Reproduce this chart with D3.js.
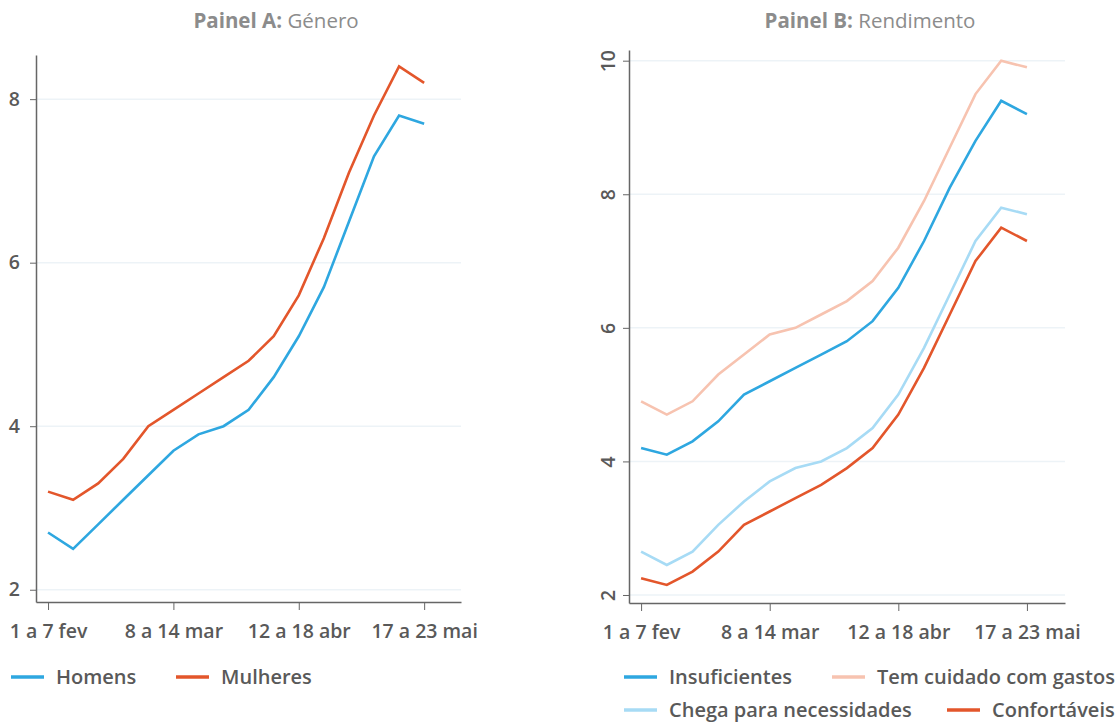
<!DOCTYPE html>
<html>
<head>
<meta charset="utf-8">
<script src="https://cdn.jsdelivr.net/npm/d3@7"></script>
<style>
  body { margin: 0; background: #fff; font-family: "Open Sans", sans-serif; }
  .tick text { fill: #595959; font-size: 19.5px; font-weight: 600; font-family: "Open Sans", sans-serif; }
  .domain, .tick line { stroke: #666; }
</style>
</head>
<body>
<div id="chart"></div>
<script>
// semanas (16 pontos), só algumas têm rótulo
var weeks = ["1 a 7 fev", "8 a 14 fev", "15 a 21 fev", "22 a 28 fev", "1 a 7 mar",
  "8 a 14 mar", "15 a 21 mar", "22 a 28 mar", "29 mar a 4 abr", "5 a 11 abr",
  "12 a 18 abr", "19 a 25 abr", "26 abr a 2 mai", "3 a 9 mai", "10 a 16 mai", "17 a 23 mai"];
var tickWeeks = ["1 a 7 fev", "8 a 14 mar", "12 a 18 abr", "17 a 23 mai"];

// Painel A
var homens   = [2.7, 2.5, 2.8, 3.1, 3.4, 3.7, 3.9, 4.0, 4.2, 4.6, 5.1, 5.7, 6.5, 7.3, 7.8, 7.7];
var mulheres = [3.2, 3.1, 3.3, 3.6, 4.0, 4.2, 4.4, 4.6, 4.8, 5.1, 5.6, 6.3, 7.1, 7.8, 8.4, 8.2];
var ticksA = [2, 4, 6, 8];

// Painel B
var insuficientes = [4.2, 4.1, 4.3, 4.6, 5.0, 5.2, 5.4, 5.6, 5.8, 6.1, 6.6, 7.3, 8.1, 8.8, 9.4, 9.2];
var cuidado       = [4.9, 4.7, 4.9, 5.3, 5.6, 5.9, 6.0, 6.2, 6.4, 6.7, 7.2, 7.9, 8.7, 9.5, 10.0, 9.9];
var chega         = [2.65, 2.45, 2.65, 3.05, 3.4, 3.7, 3.9, 4.0, 4.2, 4.5, 5.0, 5.7, 6.5, 7.3, 7.8, 7.7];
var confortaveis  = [2.25, 2.15, 2.35, 2.65, 3.05, 3.25, 3.45, 3.65, 3.9, 4.2, 4.7, 5.4, 6.2, 7.0, 7.5, 7.3];
var ticksB = [2, 4, 6, 8, 10];

var blue = "#2ea7e0", orange = "#e3562b", pink = "#f7c3b0", lightBlue = "#a7dbf5";

var svg = d3.select("#chart").append("svg")
    .attr("width", 1119)
    .attr("height", 722);

function panel(opts) {
    var g = svg.append("g");

    var x = d3.scaleLinear().domain(opts.xDomain).range([opts.left, opts.right]);
    var y = d3.scaleLinear().domain(opts.yDomain).range([opts.bottom, opts.top]);

    // grid
    g.selectAll(".grid").data(opts.yTicks).enter().append("line")
        .attr("x1", opts.left).attr("x2", opts.right)
        .attr("y1", function(d){ return y(d); })
        .attr("y2", function(d){ return y(d); })
        .style("stroke", "#edf3f7")
        .style("stroke-width", 1.5);

    var xAxis = d3.axisBottom(x)
        .tickValues(tickWeeks.map(function(w){ return weeks.indexOf(w); }))
        .tickFormat(function(i){ return weeks[i]; })
        .tickSize(8).tickPadding(14).tickSizeOuter(0);
    var gx = g.append("g")
        .attr("transform", "translate(0," + opts.bottom + ")")
        .call(xAxis);
    gx.select(".domain").style("stroke-width", 1.5);

    var yAxis = d3.axisLeft(y).tickValues(opts.yTicks)
        .tickFormat(d3.format("d"))
        .tickSize(6).tickPadding(10).tickSizeOuter(0);
    var gy = g.append("g")
        .attr("transform", "translate(" + opts.left + ",0)")
        .call(yAxis);
    gy.select(".domain").style("stroke-width", 1.5);
    if (opts.rotate) {
        gy.selectAll(".tick text")
            .attr("transform", "rotate(-90)")
            .attr("x", 0).attr("y", -21)
            .attr("dy", "0.35em")
            .style("text-anchor", "middle");
    }

    var line = d3.line()
        .x(function(d, i){ return x(i); })
        .y(function(d){ return y(d); });

    opts.series.forEach(function(s){
        g.append("path")
            .datum(s.values)
            .attr("d", line)
            .style("fill", "none")
            .style("stroke", s.color)
            .style("stroke-width", 2.6)
            .style("stroke-linejoin", "miter");
    });

    // title
    var t = g.append("text")
        .attr("x", opts.titleX).attr("y", 28)
        .attr("text-anchor", "middle")
        .style("font-size", "20.5px")
        .style("fill", "#8c8c8c");
    t.append("tspan").style("font-weight", 700).text(opts.titleBold + " ");
    t.append("tspan").text(opts.titleRest);

    // legend
    opts.legend.forEach(function(l){
        g.append("line")
            .attr("x1", l.x).attr("x2", l.x + 33)
            .attr("y1", l.y).attr("y2", l.y)
            .style("stroke", l.color).style("stroke-width", 3.5);
        g.append("text")
            .attr("x", l.x + 45).attr("y", l.y)
            .attr("dy", "0.35em")
            .style("font-size", "20px")
            .style("font-weight", 600)
            .style("fill", "#595959")
            .text(l.name);
    });
}

panel({
    left: 36, right: 461, top: 55, bottom: 602,
    xDomain: [-0.48, 16.47], yDomain: [1.85, 8.54], yTicks: ticksA,
    titleX: 276, titleBold: "Painel A:", titleRest: "Género",
    series: [{values: homens, color: blue}, {values: mulheres, color: orange}],
    legend: [
        {name: "Homens", color: blue, x: 11, y: 677},
        {name: "Mulheres", color: orange, x: 176, y: 677}
    ]
});

panel({
    left: 629, right: 1065, top: 50, bottom: 603, rotate: true,
    xDomain: [-0.47, 16.48], yDomain: [1.88, 10.16], yTicks: ticksB,
    titleX: 870, titleBold: "Painel B:", titleRest: "Rendimento",
    series: [
        {values: cuidado, color: pink},
        {values: chega, color: lightBlue},
        {values: insuficientes, color: blue},
        {values: confortaveis, color: orange}
    ],
    legend: [
        {name: "Insuficientes", color: blue, x: 624, y: 677},
        {name: "Tem cuidado com gastos", color: pink, x: 832, y: 677},
        {name: "Chega para necessidades", color: lightBlue, x: 624, y: 710},
        {name: "Confortáveis", color: orange, x: 947, y: 710}
    ]
});
</script>
</body>
</html>
